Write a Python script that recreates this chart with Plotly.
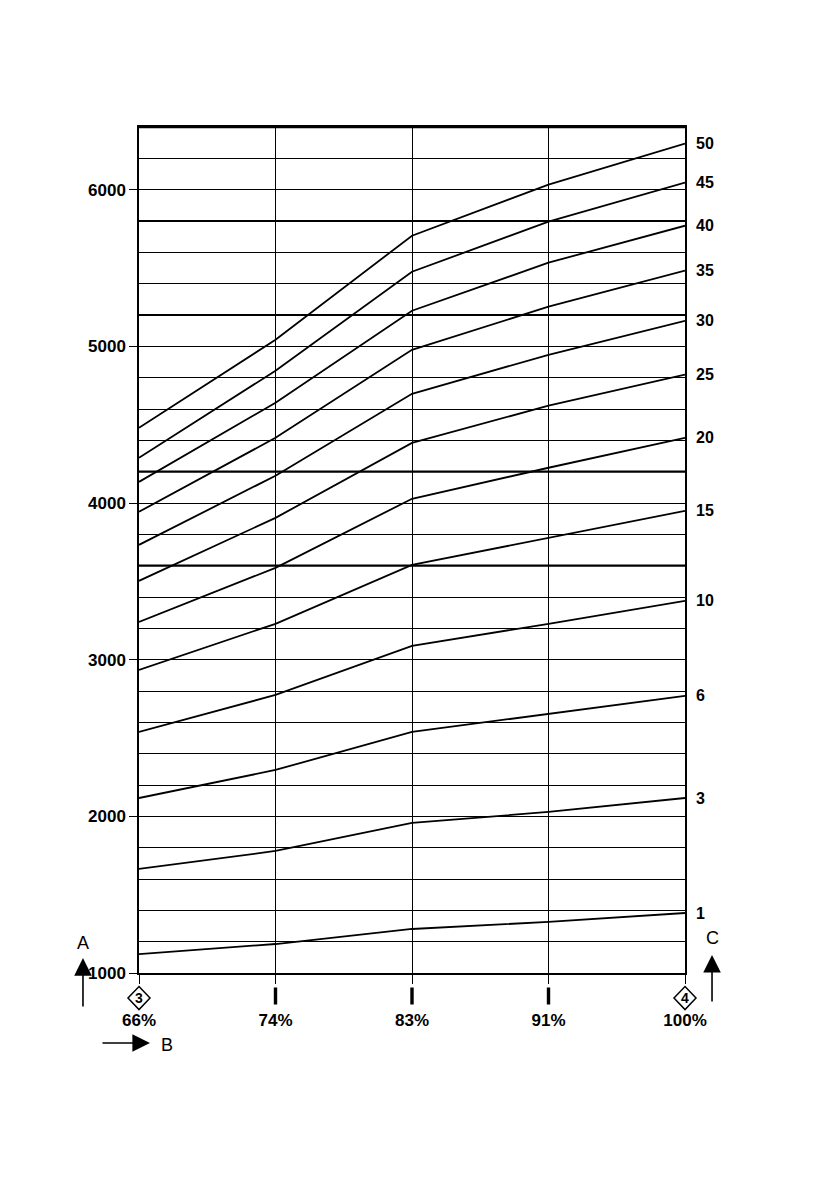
import plotly.graph_objects as go

# ---------------- data ----------------
X_LABELS = ["66%", "74%", "83%", "91%", "100%"]
SERIES_NAMES = ["1", "3", "6", "10", "15", "20", "25", "30", "35", "40", "45", "50"]
S1 = [1121, 1185, 1281, 1326, 1383]
S3 = [1664, 1779, 1958, 2028, 2117]
S6 = [2117, 2296, 2539, 2654, 2769]
S10 = [2539, 2775, 3088, 3229, 3375]
S15 = [2935, 3229, 3605, 3778, 3950]
S20 = [3241, 3586, 4027, 4225, 4416]
S25 = [3503, 3905, 4384, 4621, 4819]
S30 = [3733, 4174, 4697, 4946, 5163]
S35 = [3944, 4416, 4978, 5253, 5483]
S40 = [4135, 4640, 5227, 5534, 5770]
S45 = [4289, 4844, 5476, 5796, 6045]
S50 = [4480, 5042, 5706, 6032, 6294]
SERIES = [S1, S3, S6, S10, S15, S20, S25, S30, S35, S40, S45, S50]
Y_TICKS = [1000, 2000, 3000, 4000, 5000, 6000]
THICK_LINES = [3600, 4200, 5200, 5800]
MARKER_LABELS = ["3", None, None, None, "4"]

FONT = "Liberation Sans Narrow, Arial Narrow, Liberation Sans, Arial, sans-serif"

fig = go.Figure()
for name, vals in zip(SERIES_NAMES, SERIES):
    fig.add_trace(go.Scatter(x=X_LABELS, y=vals, mode="lines", name=name,
                             line=dict(color="black", width=1.8),
                             showlegend=False, hoverinfo="skip"))

shapes = []
for v in THICK_LINES:
    shapes.append(dict(type="line", xref="paper", yref="y", x0=0, x1=1, y0=v, y1=v,
                       line=dict(color="black", width=2.2), layer="above"))
shapes.append(dict(type="line", xref="paper", yref="paper", x0=0, x1=1, y0=1, y1=1,
                   line=dict(color="black", width=2.5), layer="above"))

annotations = []
for name, vals in zip(SERIES_NAMES, SERIES):
    annotations.append(dict(x=X_LABELS[-1], y=vals[-1], xref="x", yref="y", text=name,
                            showarrow=False, xanchor="left", yanchor="middle", xshift=9,
                            font=dict(family=FONT, size=16, color="black", weight="bold")))

n = len(X_LABELS)
for i, lab in enumerate(MARKER_LABELS):
    px = i / (n - 1)
    if lab is not None:
        shapes.append(dict(type="path", xref="paper", yref="paper", xsizemode="pixel", ysizemode="pixel",
                           xanchor=px, yanchor=-0.0296,
                           path="M 0 11.5 L 11 0 L 0 -11.5 L -11 0 Z",
                           line=dict(color="black", width=1.5), fillcolor="white"))
        annotations.append(dict(x=px, y=-0.0296, xref="paper", yref="paper", text=lab, showarrow=False,
                                xanchor="center", yanchor="middle",
                                font=dict(family=FONT, size=14, color="black", weight="bold")))
    else:
        shapes.append(dict(type="rect", xref="paper", yref="paper", xsizemode="pixel", ysizemode="pixel",
                           xanchor=px, yanchor=-0.0272, x0=-1.7, x1=1.7, y0=-8.5, y1=8.5,
                           line=dict(width=0), fillcolor="black"))

# axis-name arrows
arrow_font = dict(family="Liberation Sans, Arial, sans-serif", size=18, color="black")
arr = dict(showarrow=True, arrowhead=2, arrowsize=2.2, arrowwidth=1.6, arrowcolor="black", text="",
           xref="paper", yref="paper")
annotations += [
    dict(x=-0.1026, y=0.0177, ax=0, ay=50, **arr),
    dict(x=-0.1026, y=0.0355, xref="paper", yref="paper", text="A", showarrow=False,
         xanchor="center", yanchor="middle", font=arrow_font),
    dict(x=1.0495, y=0.0213, ax=0, ay=48, **arr),
    dict(x=1.0495, y=0.0414, xref="paper", yref="paper", text="C", showarrow=False,
         xanchor="center", yanchor="middle", font=arrow_font),
    dict(x=0.0201, y=-0.0827, ax=-49, ay=0, **arr),
    dict(x=0.0513, y=-0.085, xref="paper", yref="paper", text="B", showarrow=False,
         xanchor="center", yanchor="middle", font=arrow_font),
]

fig.update_layout(
    width=839, height=1191,
    margin=dict(l=131, r=162, t=119, b=226),
    paper_bgcolor="white", plot_bgcolor="white",
    shapes=shapes, annotations=annotations,
    font=dict(family=FONT, size=17, color="black"),
)
fig.update_xaxes(type="category", categoryorder="array", categoryarray=X_LABELS,
                 range=[0, 4], showgrid=True, gridcolor="black", gridwidth=1,
                 ticks="outside", ticklen=9, tickcolor="black", tickwidth=1,
                 showline=True, linecolor="black", linewidth=1.5, mirror=True,
                 tickfont=dict(family=FONT, size=17, color="black", weight="bold"),
                 ticklabelstandoff=22, zeroline=False)
fig.update_yaxes(range=[1000, 6400], tickvals=Y_TICKS, ticktext=[str(v) for v in Y_TICKS],
                 showgrid=True, gridcolor="black", gridwidth=1,
                 minor=dict(dtick=200, tick0=1000, showgrid=True, gridcolor="black", gridwidth=1, ticks=""),
                 ticks="outside", ticklen=8, tickcolor="black", tickwidth=1,
                 showline=True, linecolor="black", linewidth=1.5, mirror=True,
                 tickfont=dict(family=FONT, size=17, color="black", weight="bold"),
                 zeroline=False)

fig.write_html("out.html")
